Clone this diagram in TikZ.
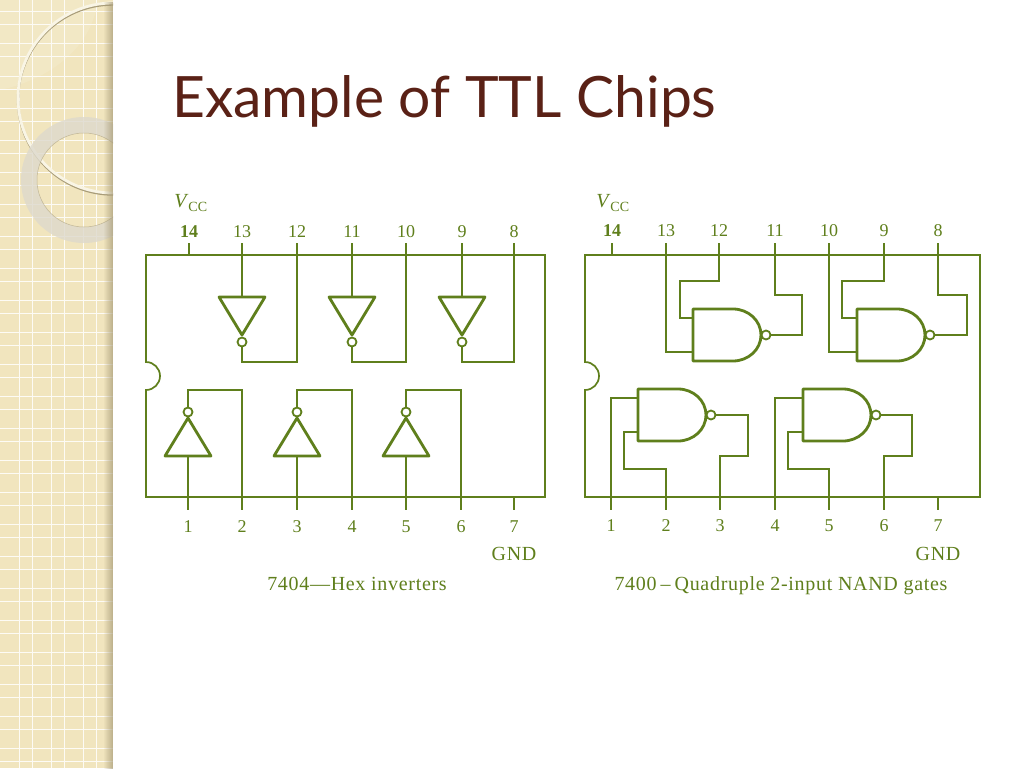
\documentclass[tikz,border=0pt]{standalone}
\usepackage{fontspec}
\setmainfont{Liberation Serif}
\newfontfamily\titlefont{Lato}
\newfontfamily\capfont[LetterSpace=3.5]{Liberation Serif}
\usetikzlibrary{positioning, calc, fadings}
\definecolor{panelbg}{HTML}{F1E5BE}
\definecolor{paneledge}{HTML}{A89C78}
\definecolor{ringgrey}{HTML}{DDD9CC}
\definecolor{chipgreen}{HTML}{5F7F1C}
\definecolor{titlebrown}{HTML}{5A2116}
\tikzfading[name=edgefade, left color=transparent!100, right color=transparent!25]
\begin{document}
\begin{tikzpicture}[x = 1pt, y = -1pt,
	wire/.style={draw=chipgreen, line width=1.7pt, line join=miter},
	gateline/.style={draw=chipgreen, line width=2.8pt, line join=round},
	bubble/.style={circle, draw=chipgreen, line width=1.8pt, fill=white, inner sep=0pt, minimum size=9pt},
	pinlabel/.style={text=chipgreen, font=\fontsize{18}{20}\selectfont, inner sep=0pt},
	chiplabel/.style={text=chipgreen, font=\capfont\fontsize{20}{22}\selectfont, inner sep=0pt}
]
\useasboundingbox (0, 0) rectangle (1024, 768);
\fill[white] (0, 0) rectangle (1024, 768);
% side panel
\begin{scope}
\clip (0, 0) rectangle (113, 768);
\fill[panelbg] (0, 0) rectangle (113, 768);
\fill[white, opacity=0.12] (0, 0) -- (100, 0) -- (93, 20) .. controls (80, 55) and (45, 80) .. (0, 90) -- cycle;
\foreach \k in {0, ..., 23} {
	\draw[white!85!panelbg, line width=1pt] (0, 12 + 32 * \k) -- (113, 12 + 32 * \k);
	\draw[white!85!panelbg, line width=1pt] (0, 25 + 32 * \k) -- (113, 25 + 32 * \k);
}
\foreach \k in {0, 1, 2} {
	\draw[white!85!panelbg, line width=1pt] (19 + 32 * \k, 0) -- (19 + 32 * \k, 768);
	\draw[white!85!panelbg, line width=1pt] (32 + 32 * \k, 0) -- (32 + 32 * \k, 768);
}
\draw[paneledge, line width=2.4pt] (113, 99.5) circle[radius=95pt];
\draw[white!60!panelbg, line width=2.8pt] (113, 98) circle[radius=95pt];
\fill[ringgrey, opacity=0.8, even odd rule] (84, 180) circle[radius=63pt] (84, 180) circle[radius=47pt];
\draw[paneledge, line width=0.5pt, opacity=0.6] (84, 180) circle[radius=47pt];
\fill[paneledge, path fading=edgefade] (103, 0) rectangle (113, 768);
\end{scope}
\node[anchor=base west, text=titlebrown, font=\titlefont\fontsize{57}{62}\selectfont, inner sep=0pt] (title) at (172, 117) {Example of TTL Chips};
% 7404 body and pins
\draw[wire] (146, 255) -- (545, 255) -- (545, 497) -- (146, 497) -- (146, 390) arc[start angle=-90, end angle=90, radius=14pt] -- cycle;
\foreach \pin/\px in {14/189, 13/242, 12/297, 11/352, 10/406, 9/462, 8/514} {
	\coordinate (L-\pin) at (\px, 255);
	\draw[wire] (L-\pin) -- ++(0, -12) coordinate (L-\pin-end);
	\node[pinlabel] (L-\pin-lab) at (\px, 232) {\ifnum\pin=14 \bfseries\fi\pin};
}
\foreach \pin/\px in {1/188, 2/242, 3/297, 4/352, 5/406, 6/461, 7/514} {
	\coordinate (L-\pin) at (\px, 497);
	\draw[wire] (L-\pin) -- ++(0, 13) coordinate (L-\pin-end);
	\node[pinlabel] (L-\pin-lab) at (\px, 527) {\pin};
}
\foreach \inp/\out in {13/12, 11/10, 9/8} {
	\draw[wire] (L-\inp) -- ++(0, 42) coordinate (inv-\inp-top);
	\draw[gateline] ($(inv-\inp-top) + (-23, 0)$) -- ($(inv-\inp-top) + (23, 0)$) -- ($(inv-\inp-top) + (0, 38)$) -- cycle;
	\node[bubble] (inv-\inp-bub) at ($(inv-\inp-top) + (0, 45)$) {};
	\draw[wire] (inv-\inp-bub.south) |- ($(L-\out) + (0, 107)$) -- (L-\out);
}
\foreach \inp/\out in {1/2, 3/4, 5/6} {
	\draw[wire] (L-\inp) -- ++(0, -41) coordinate (inv-\inp-top);
	\draw[gateline] ($(inv-\inp-top) + (-23, 0)$) -- ($(inv-\inp-top) + (23, 0)$) -- ($(inv-\inp-top) + (0, -38)$) -- cycle;
	\node[bubble] (inv-\inp-bub) at ($(inv-\inp-top) + (0, -44)$) {};
	\draw[wire] (inv-\inp-bub.north) |- ($(L-\out) + (0, -107)$) -- (L-\out);
}
\node[text=chipgreen, font=\fontsize{20}{22}\selectfont, inner sep=0pt] (L-vcc) at (191, 203) {\textit{V}\textsubscript{CC}};
\node[chiplabel, below=27pt of L-7-lab.center, anchor=center] (L-gnd) {GND};
\node[chiplabel, anchor=base] (L-cap) at (357, 590) {7404—Hex inverters};
% 7400 body and pins
\draw[wire] (585, 255) -- (980, 255) -- (980, 497) -- (585, 497) -- (585, 390) arc[start angle=-90, end angle=90, radius=14pt] -- cycle;
\foreach \pin/\px in {14/612, 13/666, 12/719, 11/775, 10/829, 9/884, 8/938} {
	\coordinate (R-\pin) at (\px, 255);
	\draw[wire] (R-\pin) -- ++(0, -12) coordinate (R-\pin-end);
	\node[pinlabel] (R-\pin-lab) at (\px, 231) {\ifnum\pin=14 \bfseries\fi\pin};
}
\foreach \pin/\px in {1/611, 2/666, 3/720, 4/775, 5/829, 6/884, 7/938} {
	\coordinate (R-\pin) at (\px, 497);
	\draw[wire] (R-\pin) -- ++(0, 13) coordinate (R-\pin-end);
	\node[pinlabel] (R-\pin-lab) at (\px, 526) {\pin};
}
\foreach \g/\lx/\ty in {a/693/309, b/857/309, c/638/389, d/803/389} {
	\draw[gateline] (\lx, \ty) -- ++(40, 0) arc[start angle=90, end angle=-90, x radius=28pt, y radius=26pt] -- ++(-40, 0) -- cycle;
	\coordinate (\g-in1) at (\lx, \ty + 9);
	\coordinate (\g-in2) at (\lx, \ty + 43);
	\node[bubble] (\g-bub) at (\lx + 73, \ty + 26) {};
}
\draw[wire] (R-12) |- (680, 281) |- (a-in1);
\draw[wire] (R-13) |- (a-in2);
\draw[wire] (a-bub.east) -| (802, 295) -| (R-11);
\draw[wire] (R-9) |- (842, 281) |- (b-in1);
\draw[wire] (R-10) |- (b-in2);
\draw[wire] (b-bub.east) -| (967, 295) -| (R-8);
\draw[wire] (R-1) |- (c-in1);
\draw[wire] (R-2) |- (624, 469) |- (c-in2);
\draw[wire] (c-bub.east) -| (748, 456) -| (R-3);
\draw[wire] (R-4) |- (d-in1);
\draw[wire] (R-5) |- (788, 469) |- (d-in2);
\draw[wire] (d-bub.east) -| (912, 456) -| (R-6);
\node[text=chipgreen, font=\fontsize{20}{22}\selectfont, inner sep=0pt] (R-vcc) at (613, 203) {\textit{V}\textsubscript{CC}};
\node[chiplabel, below=28pt of R-7-lab.center, anchor=center] (R-gnd) {GND};
\node[chiplabel, anchor=base] (R-cap) at (781, 590) {7400\kern4pt–\kern4pt Quadruple 2-input NAND gates};
\end{tikzpicture}
\end{document}
